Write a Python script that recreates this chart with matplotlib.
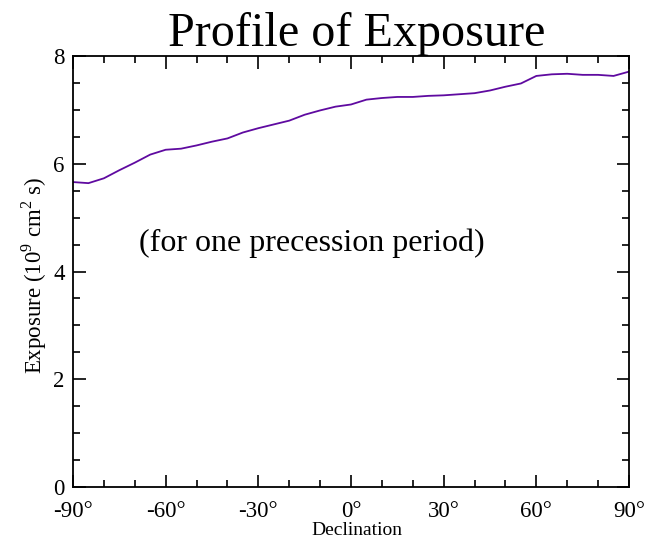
import matplotlib
matplotlib.use("Agg")
import matplotlib.pyplot as plt
from matplotlib.ticker import MultipleLocator, FixedLocator

declination = [-90, -85, -80, -75, -70, -65, -60, -55, -50, -45, -40, -35, -30,
               -25, -20, -15, -10, -5, 0, 5, 10, 15, 20, 25, 30, 35, 40, 45,
               50, 55, 60, 65, 70, 75, 80, 85, 90]
exposure = [5.66, 5.64, 5.73, 5.88, 6.02, 6.17, 6.26, 6.28, 6.34, 6.41, 6.47,
            6.58, 6.66, 6.73, 6.80, 6.91, 6.99, 7.06, 7.10, 7.19, 7.22, 7.24,
            7.24, 7.26, 7.27, 7.29, 7.31, 7.36, 7.43, 7.49, 7.63, 7.66, 7.67,
            7.65, 7.65, 7.63, 7.71]
xticks = [-90, -60, -30, 0, 30, 60, 90]
xticklabels = ["-90°", "-60°", "-30°", "0°", "30°", "60°", "90°"]
yticks = [0, 2, 4, 6, 8]

plt.rcParams['font.family'] = ['Liberation Serif', 'DejaVu Serif']
plt.rcParams['mathtext.fontset'] = 'custom'
plt.rcParams['mathtext.rm'] = 'Liberation Serif'

fig = plt.figure(figsize=(6.47, 5.44), dpi=100)
ax = fig.add_axes([73/647, 1-487/544, (629-73)/647, (487-56)/544])

ax.plot(declination, exposure, color='#5f0aa0', lw=1.3)
ax.set_xlim(-90, 90)
ax.set_ylim(0, 8)
ax.xaxis.set_major_locator(FixedLocator(xticks))
ax.set_xticklabels(xticklabels)
ax.xaxis.set_minor_locator(MultipleLocator(10))
ax.set_yticks(yticks)
ax.yaxis.set_minor_locator(MultipleLocator(0.5))
ax.tick_params(which='both', direction='in', top=True, right=True, width=1.2,
               labelsize=16.5, colors='black')
ax.tick_params(which='major', length=9)
ax.tick_params(axis='x', which='major', pad=10)
ax.tick_params(axis='y', which='major', pad=6)
ax.tick_params(which='minor', length=5)
for s in ax.spines.values():
    s.set_linewidth(1.3)

ax.set_xlabel('Declination', fontsize=14, labelpad=0, x=0.51)
ax.set_ylabel('Exposure (10$^{9}$ cm$^{2}$ s)', fontsize=16.5, labelpad=3, y=0.49)
ax.set_title('Profile of Exposure', fontsize=34.7, pad=3, x=0.51)
ax.text(0.43, 0.566, '(for one precession period)', transform=ax.transAxes,
        fontsize=23, ha='center', va='center')

fig.savefig('out.png', dpi=100)
